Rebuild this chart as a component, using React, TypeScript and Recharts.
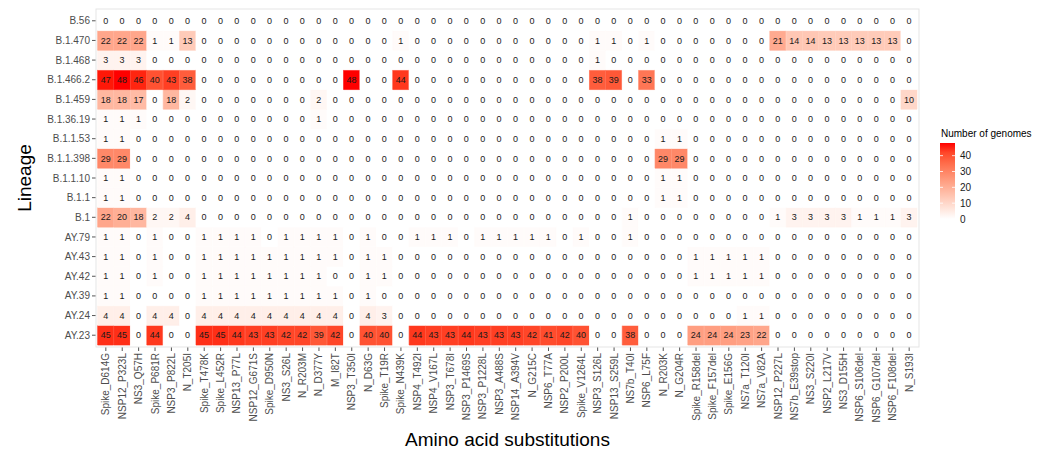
import React from 'react';
import { BarChart, Bar, XAxis, YAxis, Cell, LabelList } from 'recharts';

const FONT = '"Liberation Sans", Arial, sans-serif';

const substitutions = [
  'Spike_D614G', 'NSP12_P323L', 'NS3_Q57H', 'Spike_P681R', 'NSP3_P822L', 'N_T205I', 'Spike_T478K', 'Spike_L452R', 'NSP13_P77L', 'NSP12_G671S',
  'Spike_D950N', 'NS3_S26L', 'N_R203M', 'N_D377Y', 'M_I82T', 'NSP3_T350I', 'N_D63G', 'Spike_T19R', 'Spike_N439K', 'NSP4_T492I',
  'NSP4_V167L', 'NSP3_T678I', 'NSP3_P1469S', 'NSP3_P1228L', 'NSP3_A488S', 'NSP14_A394V', 'N_G215C', 'NSP6_T77A', 'NSP2_P200L', 'Spike_V1264L',
  'NSP3_S126L', 'NSP13_S259L', 'NS7b_T40I', 'NSP6_L75F', 'N_R203K', 'N_G204R', 'Spike_R158del', 'Spike_F157del', 'Spike_E156G', 'NS7a_T120I',
  'NS7a_V82A', 'NSP12_P227L', 'NS7b_E39stop', 'NS3_S220I', 'NSP2_L217V', 'NS3_D155H', 'NSP6_S106del', 'NSP6_G107del', 'NSP6_F108del', 'N_S193I',
];

// top to bottom, as shown
const lineages = [
  'B.56', 'B.1.470', 'B.1.468', 'B.1.466.2', 'B.1.459', 'B.1.36.19', 'B.1.1.53', 'B.1.1.398', 'B.1.1.10',
  'B.1.1', 'B.1', 'AY.79', 'AY.43', 'AY.42', 'AY.39', 'AY.24', 'AY.23',
];

const b56 = [0, 0, 0, 0, 0, 0, 0, 0, 0, 0, 0, 0, 0, 0, 0, 0, 0, 0, 0, 0, 0, 0, 0, 0, 0, 0, 0, 0, 0, 0, 0, 0, 0, 0, 0, 0, 0, 0, 0, 0, 0, 0, 0, 0, 0, 0, 0, 0, 0, 0];
const b1470 = [22, 22, 22, 1, 1, 13, 0, 0, 0, 0, 0, 0, 0, 0, 0, 0, 0, 0, 1, 0, 0, 0, 0, 0, 0, 0, 0, 0, 0, 0, 1, 1, 0, 1, 0, 0, 0, 0, 0, 0, 0, 21, 14, 14, 13, 13, 13, 13, 13, 0];
const b1468 = [3, 3, 3, 0, 0, 0, 0, 0, 0, 0, 0, 0, 0, 0, 0, 0, 0, 0, 0, 0, 0, 0, 0, 0, 0, 0, 0, 0, 0, 0, 1, 0, 0, 0, 0, 0, 0, 0, 0, 0, 0, 0, 0, 0, 0, 0, 0, 0, 0, 0];
const b14662 = [47, 48, 46, 40, 43, 38, 0, 0, 0, 0, 0, 0, 0, 0, 0, 48, 0, 0, 44, 0, 0, 0, 0, 0, 0, 0, 0, 0, 0, 0, 38, 39, 0, 33, 0, 0, 0, 0, 0, 0, 0, 0, 0, 0, 0, 0, 0, 0, 0, 0];
const b1459 = [18, 18, 17, 0, 18, 2, 0, 0, 0, 0, 0, 0, 0, 2, 0, 0, 0, 0, 0, 0, 0, 0, 0, 0, 0, 0, 0, 0, 0, 0, 0, 0, 0, 0, 0, 0, 0, 0, 0, 0, 0, 0, 0, 0, 0, 0, 0, 0, 0, 10];
const b13619 = [1, 1, 1, 0, 0, 0, 0, 0, 0, 0, 0, 0, 0, 1, 0, 0, 0, 0, 0, 0, 0, 0, 0, 0, 0, 0, 0, 0, 0, 0, 0, 0, 0, 0, 0, 0, 0, 0, 0, 0, 0, 0, 0, 0, 0, 0, 0, 0, 0, 0];
const b1153 = [1, 1, 0, 0, 0, 0, 0, 0, 0, 0, 0, 0, 0, 0, 0, 0, 0, 0, 0, 0, 0, 0, 0, 0, 0, 0, 0, 0, 0, 0, 0, 0, 0, 0, 1, 1, 0, 0, 0, 0, 0, 0, 0, 0, 0, 0, 0, 0, 0, 0];
const b11398 = [29, 29, 0, 0, 0, 0, 0, 0, 0, 0, 0, 0, 0, 0, 0, 0, 0, 0, 0, 0, 0, 0, 0, 0, 0, 0, 0, 0, 0, 0, 0, 0, 0, 0, 29, 29, 0, 0, 0, 0, 0, 0, 0, 0, 0, 0, 0, 0, 0, 0];
const b1110 = [1, 1, 0, 0, 0, 0, 0, 0, 0, 0, 0, 0, 0, 0, 0, 0, 0, 0, 0, 0, 0, 0, 0, 0, 0, 0, 0, 0, 0, 0, 0, 0, 0, 0, 1, 1, 0, 0, 0, 0, 0, 0, 0, 0, 0, 0, 0, 0, 0, 0];
const b11 = [1, 1, 0, 0, 0, 0, 0, 0, 0, 0, 0, 0, 0, 0, 0, 0, 0, 0, 0, 0, 0, 0, 0, 0, 0, 0, 0, 0, 0, 0, 0, 0, 0, 0, 1, 1, 0, 0, 0, 0, 0, 0, 0, 0, 0, 0, 0, 0, 0, 0];
const b1 = [22, 20, 18, 2, 2, 4, 0, 0, 0, 0, 0, 0, 0, 0, 0, 0, 0, 0, 0, 0, 0, 0, 0, 0, 0, 0, 0, 0, 0, 0, 0, 0, 1, 0, 0, 0, 0, 0, 0, 0, 0, 1, 3, 3, 3, 3, 1, 1, 1, 3];
const ay79 = [1, 1, 0, 1, 0, 0, 1, 1, 1, 1, 0, 1, 1, 1, 1, 0, 1, 0, 0, 1, 1, 1, 0, 1, 1, 1, 1, 1, 0, 1, 0, 0, 1, 0, 0, 0, 0, 0, 0, 0, 0, 0, 0, 0, 0, 0, 0, 0, 0, 0];
const ay43 = [1, 1, 0, 1, 0, 0, 1, 1, 1, 1, 1, 1, 1, 1, 1, 0, 1, 1, 0, 0, 0, 0, 0, 0, 0, 0, 0, 0, 0, 0, 0, 0, 0, 0, 0, 0, 1, 1, 1, 1, 1, 0, 0, 0, 0, 0, 0, 0, 0, 0];
const ay42 = [1, 1, 0, 1, 0, 0, 1, 1, 1, 1, 1, 1, 1, 1, 0, 0, 1, 1, 0, 0, 0, 0, 0, 0, 0, 0, 0, 0, 0, 0, 0, 0, 0, 0, 0, 0, 1, 1, 1, 1, 1, 0, 0, 0, 0, 0, 0, 0, 0, 0];
const ay39 = [1, 1, 0, 0, 0, 0, 1, 1, 1, 1, 1, 1, 1, 1, 1, 0, 1, 0, 0, 0, 0, 0, 0, 0, 0, 0, 0, 0, 0, 0, 0, 0, 0, 0, 0, 0, 0, 0, 0, 0, 0, 0, 0, 0, 0, 0, 0, 0, 0, 0];
const ay24 = [4, 4, 0, 4, 4, 0, 4, 4, 4, 4, 4, 4, 4, 4, 4, 0, 4, 3, 0, 0, 0, 0, 0, 0, 0, 0, 0, 0, 0, 0, 0, 0, 0, 0, 0, 0, 0, 0, 0, 1, 1, 0, 0, 0, 0, 0, 0, 0, 0, 0];
const ay23 = [45, 45, 0, 44, 0, 0, 45, 45, 44, 43, 43, 42, 42, 39, 42, 0, 40, 40, 0, 44, 43, 43, 44, 43, 43, 43, 42, 41, 42, 40, 0, 0, 38, 0, 0, 0, 24, 24, 24, 23, 22, 0, 0, 0, 0, 0, 0, 0, 0, 0];

const counts: Record<string, number[]> = {
  'B.56': b56, 'B.1.470': b1470, 'B.1.468': b1468, 'B.1.466.2': b14662, 'B.1.459': b1459,
  'B.1.36.19': b13619, 'B.1.1.53': b1153, 'B.1.1.398': b11398, 'B.1.1.10': b1110, 'B.1.1': b11,
  'B.1': b1, 'AY.79': ay79, 'AY.43': ay43, 'AY.42': ay42, 'AY.39': ay39, 'AY.24': ay24, 'AY.23': ay23,
};

const legendTicks = [0, 10, 20, 30, 40];
const maxCount = 48;

// white -> red, interpolated in Lab like ggplot's scale_fill_gradient
const LAB_RED = [53.2408, 80.0925, 67.2032];
function fillFor(v: number) {
  const t = Math.max(0, Math.min(1, v / maxCount));
  const L = 100 + (LAB_RED[0] - 100) * t;
  const a = LAB_RED[1] * t;
  const b = LAB_RED[2] * t;
  const fy = (L + 16) / 116;
  const fx = fy + a / 500;
  const fz = fy - b / 200;
  const inv = (f: number) => (f ** 3 > 0.008856 ? f ** 3 : (f - 16 / 116) / 7.787);
  const X = 0.95047 * inv(fx);
  const Y = inv(fy);
  const Z = 1.08883 * inv(fz);
  const lin = [
    3.2404542 * X - 1.5371385 * Y - 0.4985314 * Z,
    -0.969266 * X + 1.8760108 * Y + 0.041556 * Z,
    0.0556434 * X - 0.2040259 * Y + 1.0572252 * Z,
  ];
  const rgb = lin.map((c) => {
    const g = c <= 0.0031308 ? 12.92 * c : 1.055 * Math.pow(c, 1 / 2.4) - 0.055;
    return Math.round(Math.max(0, Math.min(1, g)) * 255);
  });
  return `rgb(${rgb[0]},${rgb[1]},${rgb[2]})`;
}

// stacking goes bottom up
const stackOrder = [...lineages].reverse();

const data = substitutions.map((sub, j) => {
  const row: Record<string, string | number> = { sub };
  stackOrder.forEach((lin, i) => {
    row[`t${i}`] = 1;
    row[`c${i}`] = counts[lin][j];
  });
  return row;
});

const W = 1049;
const H = 453;
const margin = { top: 9, right: 130, bottom: 0, left: 0 };
const yAxisW = 96;
const xAxisH = 106;
const plotX = margin.left + yAxisW;
const plotY = margin.top;
const plotW = W - margin.left - margin.right - yAxisW;
const plotH = H - margin.top - margin.bottom - xAxisH;

const XTick = ({ x, y, payload }: any) => (
  <text
    x={x}
    y={y}
    transform={`rotate(-90, ${x}, ${y})`}
    textAnchor="end"
    dy="0.35em"
    fontSize={10}
    fontFamily={FONT}
    fill="#4d4d4d"
  >
    {payload.value}
  </text>
);

const barY = 143;
const barH = 76;

export default function App() {
  return (
    <div style={{ position: 'absolute', left: 0, top: 0, width: W, height: H, background: '#fff' }}>
      <BarChart width={W} height={H} data={data} margin={margin} barCategoryGap={0} barGap={0}>
        <XAxis
          dataKey="sub"
          type="category"
          interval={0}
          height={xAxisH}
          padding={{ left: 1.64, right: 1.64 }}
          axisLine={false}
          tickLine={{ stroke: '#555' }}
          tickSize={4}
          tickMargin={2}
          tick={<XTick />}
        />
        <YAxis
          type="number"
          domain={[-0.1, 17.1]}
          ticks={stackOrder.map((_, i) => i + 0.5)}
          tickFormatter={(v: number) => stackOrder[Math.floor(v)]}
          interval={0}
          width={yAxisW}
          axisLine={false}
          tickLine={{ stroke: '#555' }}
          tickSize={4}
          tickMargin={2}
          tick={{ fontSize: 10, fill: '#4d4d4d', fontFamily: FONT }}
        />
        {stackOrder.map((lin, i) => (
          <Bar key={lin} dataKey={`t${i}`} stackId="tiles" isAnimationActive={false}>
            {data.map((d, j) => {
              const c = fillFor(d[`c${i}`] as number);
              return <Cell key={j} fill={c} stroke={c} strokeWidth={0.6} />;
            })}
            <LabelList dataKey={`c${i}`} position="center" fill="#1a1a1a" fontSize={9} fontFamily={FONT} />
          </Bar>
        ))}
      </BarChart>
      <svg width={W} height={H} style={{ position: 'absolute', left: 0, top: 0, pointerEvents: 'none' }}>
        <defs>
          <linearGradient id="cbar" x1="0" y1="1" x2="0" y2="0">
            {[0, 6, 12, 18, 24, 30, 36, 42, 48].map((v) => (
              <stop key={v} offset={v / maxCount} stopColor={fillFor(v)} />
            ))}
          </linearGradient>
        </defs>
        <rect x={plotX} y={plotY} width={plotW} height={plotH} fill="none" stroke="#e5e5e5" strokeWidth={1} />
        <text
          x={24}
          y={plotY + plotH / 2}
          transform={`rotate(-90, 24, ${plotY + plotH / 2})`}
          textAnchor="middle"
          dy="0.35em"
          fontSize={19}
          fontFamily={FONT}
          fill="#000"
        >
          Lineage
        </text>
        <text x={plotX + plotW / 2} y={446} textAnchor="middle" fontSize={19} fontFamily={FONT} fill="#000">
          Amino acid substitutions
        </text>
        <text x={941} y={137} fontSize={10} fontFamily={FONT} fill="#000">
          Number of genomes
        </text>
        <rect x={940} y={barY} width={15} height={barH} fill="url(#cbar)" />
        {legendTicks.map((v) => {
          const y = barY + barH - (v / maxCount) * barH;
          return (
            <g key={v}>
              <line x1={940} x2={943} y1={y} y2={y} stroke="#fff" strokeWidth={0.8} />
              <line x1={952} x2={955} y1={y} y2={y} stroke="#fff" strokeWidth={0.8} />
              <text x={960} y={y} dy="0.35em" fontSize={10} fontFamily={FONT} fill="#1a1a1a">
                {v}
              </text>
            </g>
          );
        })}
      </svg>
    </div>
  );
}
